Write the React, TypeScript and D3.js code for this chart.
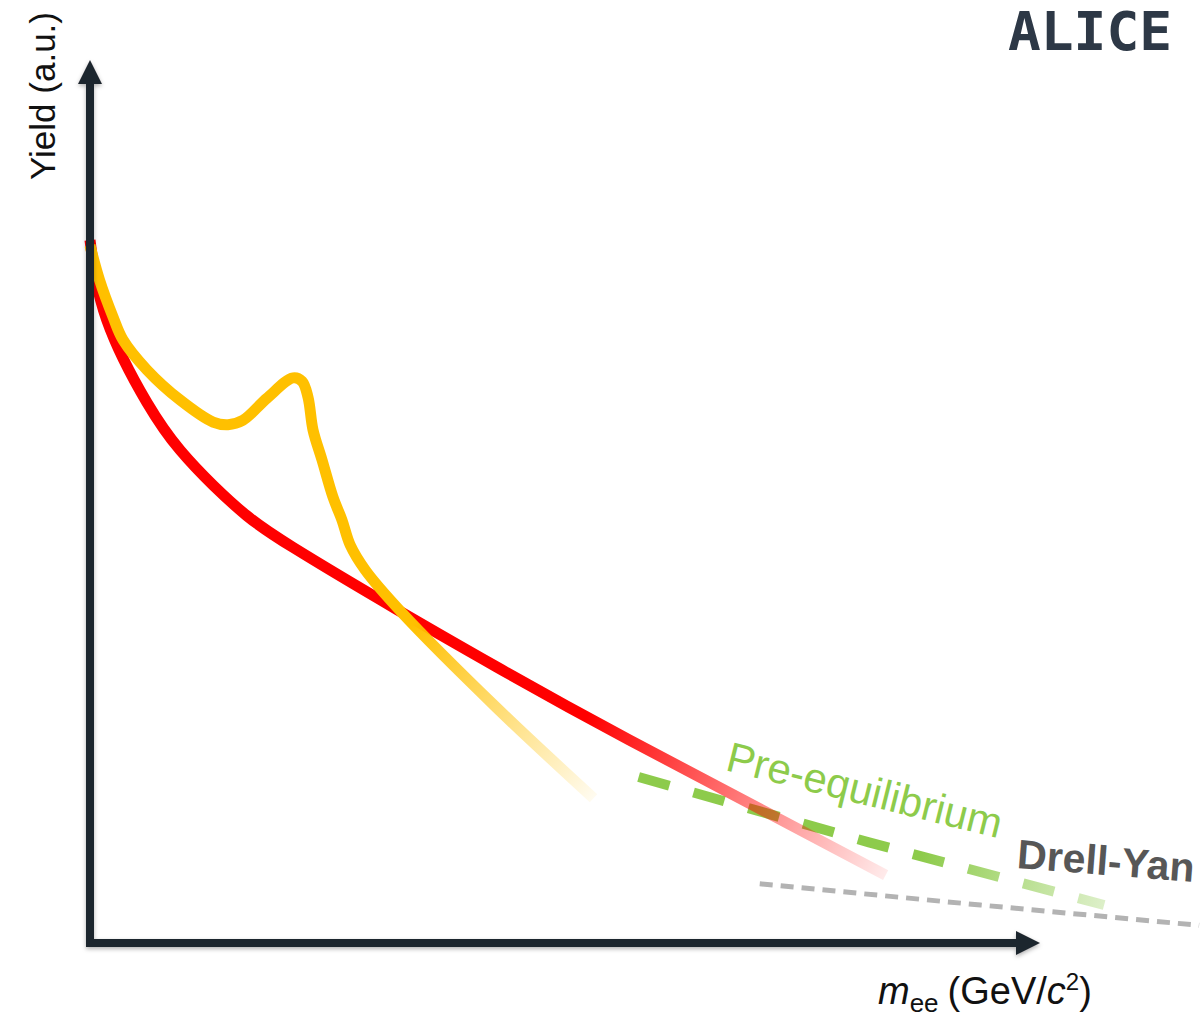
import React from "react";
import * as d3 from "d3";

// Schematic dielectron yield vs invariant mass (arbitrary units)
const thermalMass = [0.0, 0.07, 0.24, 0.38, 0.52, 0.66, 0.855, 1.29, 1.71, 2.27, 3.35];
const thermalYield = [79.6, 70.6, 61.2, 55.8, 51.8, 48.4, 44.8, 37.8, 31.3, 23.0, 7.7];

const hadronicMass = [0.0, 0.04, 0.097, 0.139, 0.24, 0.379, 0.518, 0.581, 0.644, 0.745, 0.855, 0.893, 0.918, 0.939, 0.977, 1.023, 1.061, 1.095, 1.16, 1.31, 1.71, 2.12];
const hadronicYield = [79.0, 75.1, 70.9, 68.3, 64.9, 61.5, 59.0, 58.7, 59.2, 61.7, 64.0, 63.6, 61.8, 58.1, 54.7, 50.5, 47.9, 45.1, 42.2, 37.5, 26.7, 16.4];

const preEqMass = [2.31, 3.28, 4.27];
const preEqYield = [18.8, 11.4, 4.3];

const drellYanMass = [2.82, 3.75, 4.67];
const drellYanYield = [6.7, 4.3, 2.0];

const labels = ["Pre-equilibrium", "Drell-Yan"];
const labelMass = [2.67, 3.9];
const labelYield = [19.6, 8.5];
const labelAngle = [14, 4.5];

const W = 1204;
const H = 1017;
const X0 = 90;
const X1 = 1040;
const Y0 = 943;
const Y1 = 60;

const x = d3.scaleLinear().domain([0, 4]).range([X0, X1]);
const y = d3.scaleLinear().domain([0, 100]).range([Y0, Y1]);

const natural = d3
  .line<[number, number]>()
  .x((d) => x(d[0]))
  .y((d) => y(d[1]))
  .curve(d3.curveNatural);

const smooth = d3
  .line<[number, number]>()
  .x((d) => x(d[0]))
  .y((d) => y(d[1]))
  .curve(d3.curveCatmullRom.alpha(0.5));

const straight = d3
  .line<[number, number]>()
  .x((d) => x(d[0]))
  .y((d) => y(d[1]));

const zip = (a: number[], b: number[]) => a.map((v, i) => [v, b[i]] as [number, number]);

const AXIS = "#1f272e";
const SANS = "'Liberation Sans', Arial, Helvetica, sans-serif";

export default function App() {
  const thermal = zip(thermalMass, thermalYield);
  const hadronic = zip(hadronicMass, hadronicYield);
  const preEq = zip(preEqMass, preEqYield);
  const dy = zip(drellYanMass, drellYanYield);

  return (
    <svg
      width={W}
      height={H}
      style={{ position: "absolute", left: 0, top: 0, display: "block", background: "#fff" }}
    >
      <defs>
        <filter id="axisShadow" x="-5%" y="-5%" width="110%" height="120%">
          <feDropShadow dx="0" dy="2" stdDeviation="2" floodColor="#000" floodOpacity="0.3" />
        </filter>
        <linearGradient id="fadeRed" gradientUnits="userSpaceOnUse" x1={x(2.1)} y1={y(26)} x2={x(3.35)} y2={y(7.7)}>
          <stop offset="0" stopColor="#ff0000" stopOpacity="1" />
          <stop offset="1" stopColor="#ff0000" stopOpacity="0.08" />
        </linearGradient>
        <linearGradient id="fadeYellow" gradientUnits="userSpaceOnUse" x1={x(1.35)} y1={y(36)} x2={x(2.12)} y2={y(16.4)}>
          <stop offset="0" stopColor="#ffc000" stopOpacity="1" />
          <stop offset="1" stopColor="#ffc000" stopOpacity="0.06" />
        </linearGradient>
        <linearGradient id="fadeGreen" gradientUnits="userSpaceOnUse" x1={x(3.5)} y1={y(10)} x2={x(4.27)} y2={y(4.3)}>
          <stop offset="0" stopColor="#8dcb4b" stopOpacity="1" />
          <stop offset="1" stopColor="#8dcb4b" stopOpacity="0.3" />
        </linearGradient>
      </defs>

      {/* Drell-Yan continuum */}
      <path d={straight(dy) ?? ""} fill="none" stroke="#b3b3b3" strokeWidth={5} strokeDasharray="13 8" />

      {/* Pre-equilibrium contribution */}
      <path d={straight(preEq) ?? ""} fill="none" stroke="url(#fadeGreen)" strokeWidth={10} strokeDasharray="32 25" />

      {/* Thermal radiation from the QGP */}
      <path d={natural(thermal) ?? ""} fill="none" stroke="url(#fadeRed)" strokeWidth={11} />

      {/* Hadronic cocktail with the rho peak */}
      <path d={smooth(hadronic) ?? ""} fill="none" stroke="url(#fadeYellow)" strokeWidth={11} strokeLinejoin="round" />

      {/* Axes */}
      <g filter="url(#axisShadow)">
        <line x1={X0} x2={X0} y1={Y0 + 4} y2={Y1 + 22} stroke={AXIS} strokeWidth={8} />
        <path d={`M${X0},${Y1} L${X0 - 12},${Y1 + 24} L${X0 + 12},${Y1 + 24} Z`} fill={AXIS} />
        <line x1={X0 - 4} x2={X1 - 22} y1={Y0} y2={Y0} stroke={AXIS} strokeWidth={8} />
        <path d={`M${X1},${Y0} L${X1 - 24},${Y0 - 12} L${X1 - 24},${Y0 + 12} Z`} fill={AXIS} />
      </g>

      {/* Curve labels */}
      <text
        transform={`translate(${x(labelMass[0])},${y(labelYield[0])}) rotate(${labelAngle[0]})`}
        fontFamily={SANS}
        fontSize={42}
        fill="#8dcb4b"
      >
        {labels[0]}
      </text>
      <text
        transform={`translate(${x(labelMass[1])},${y(labelYield[1])}) rotate(${labelAngle[1]})`}
        fontFamily={SANS}
        fontSize={41}
        fontWeight="bold"
        fill="#575757"
      >
        {labels[1]}
      </text>

      {/* Axis titles */}
      <text
        transform={`translate(55,96) rotate(-90)`}
        textAnchor="middle"
        fontFamily={SANS}
        fontSize={35}
        fill="#111"
      >
        Yield (a.u.)
      </text>
      <text x={878} y={1004} fontFamily={SANS} fontSize={38} fill="#111">
        <tspan fontStyle="italic">m</tspan>
        <tspan fontSize={26} dy={8}>ee</tspan>
        <tspan dy={-8} dx={9}>(GeV/</tspan>
        <tspan fontStyle="italic">c</tspan>
        <tspan fontSize={24} dy={-14}>2</tspan>
        <tspan dy={14}>)</tspan>
      </text>

      {/* Experiment tag */}
      <text
        x={1008}
        y={50}
        fontFamily="'DejaVu Sans Mono', monospace"
        fontWeight="bold"
        fontSize={54}
        fill="#2d3846"
        textLength={164}
        lengthAdjust="spacingAndGlyphs"
      >
        ALICE
      </text>
    </svg>
  );
}
